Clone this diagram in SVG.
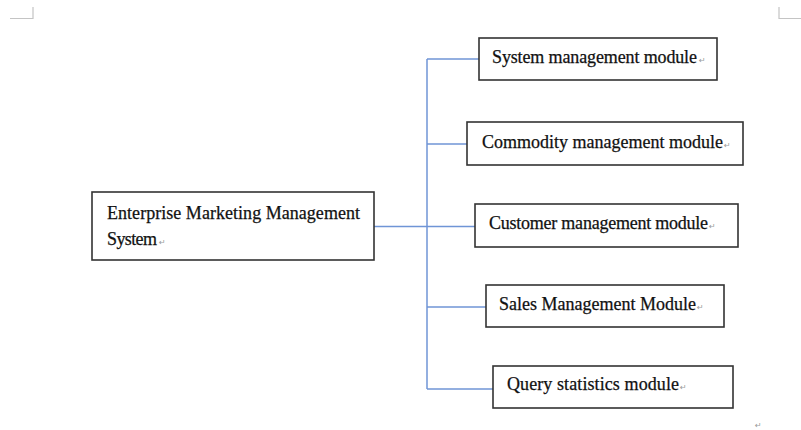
<svg xmlns="http://www.w3.org/2000/svg" width="801" height="430" viewBox="0 0 801 430">
<style>
.box{fill:#fff;stroke:#333;stroke-width:1.6}
.lbl{font-family:"Liberation Serif","Times New Roman",serif;font-size:18px;fill:#111;stroke:#111;stroke-width:0.25}
.ret{font-family:"DejaVu Sans",sans-serif;font-size:8px;fill:#999}
.conn{stroke:#6f95d6;stroke-width:1.5;fill:none}
.crop{stroke:#c4c4c4;stroke-width:1.2;fill:none}
</style>
<rect width="801" height="430" fill="#fff"/>
<path class="crop" d="M10 18.5H33V7"/>
<path class="crop" d="M779 7V18.5H801"/>
<g id="connectors">
<path class="conn" d="M374 226.5H475"/>
<path class="conn" d="M427 59V389"/>
<path class="conn" d="M427 59H479"/>
<path class="conn" d="M427 144H467"/>
<path class="conn" d="M427 307H486"/>
<path class="conn" d="M427 389H493"/>
</g>
<g id="root">
<rect class="box" x="92" y="192" width="282" height="68"/>
<text class="lbl" x="107" y="219" textLength="253" lengthAdjust="spacing">Enterprise Marketing Management</text>
<text class="lbl" x="107" y="245" textLength="50" lengthAdjust="spacing">System</text>
<text class="ret" x="159" y="245">↵</text>
</g>
<g id="system">
<rect class="box" x="479" y="38" width="238" height="42"/>
<text class="lbl" x="492" y="63" textLength="205" lengthAdjust="spacing">System management module</text>
<text class="ret" x="699" y="63">↵</text>
</g>
<g id="commodity">
<rect class="box" x="467" y="122" width="276" height="43"/>
<text class="lbl" x="482" y="148" textLength="241" lengthAdjust="spacing">Commodity management module</text>
<text class="ret" x="724" y="148">↵</text>
</g>
<g id="customer">
<rect class="box" x="475" y="204" width="263" height="43"/>
<text class="lbl" x="489" y="229" textLength="219" lengthAdjust="spacing">Customer management module</text>
<text class="ret" x="709" y="229">↵</text>
</g>
<g id="sales">
<rect class="box" x="486" y="285" width="238" height="42"/>
<text class="lbl" x="499" y="310" textLength="197" lengthAdjust="spacing">Sales Management Module</text>
<text class="ret" x="697" y="310">↵</text>
</g>
<g id="query">
<rect class="box" x="493" y="366" width="240" height="42"/>
<text class="lbl" x="507" y="390" textLength="172" lengthAdjust="spacing">Query statistics module</text>
<text class="ret" x="680" y="390">↵</text>
</g>
<text class="ret" x="755" y="428">↵</text>
</svg>
